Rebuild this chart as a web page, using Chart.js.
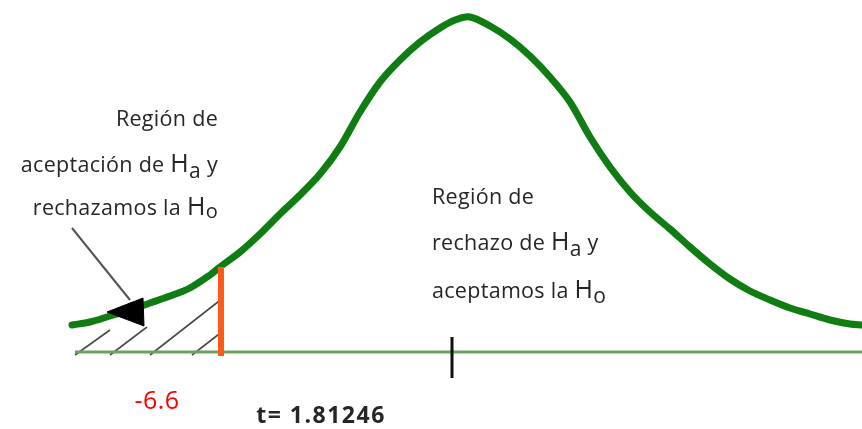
<!DOCTYPE html>
<html>
<head>
<meta charset="utf-8">
<script src="https://cdn.jsdelivr.net/npm/chart.js@4.4.1/dist/chart.umd.min.js"></script>
<style>
  html, body { margin: 0; padding: 0; background: #fff; }
  #c { display: block; }
</style>
</head>
<body>
<canvas id="c" width="862" height="429"></canvas>
<script>
// curve: x position and height above the base line
const curveX = [72, 90, 110, 130, 150, 170, 190, 210, 220, 240, 260, 280, 300, 320, 340, 360, 380, 400, 420, 440, 455, 470, 490, 510, 530, 550, 570, 590, 610, 630, 650, 670, 690, 710, 730, 750, 770, 790, 810, 830, 850, 862]
const curveY = [27, 30, 36, 42, 49, 56, 64, 77, 85, 100, 118, 138, 157, 178, 205, 240, 270, 292, 310, 324, 332, 335, 326, 313, 296, 275, 250, 215, 185, 160, 140, 123, 105, 88, 73, 61, 52, 44, 38, 32, 28, 27]

const baseX = [75, 862]
const critX = 221          // where the rejection region ends
const critTop = 85
const tickX = 452          // t = 1.81246
const tickSpan = [15, -26]

// hatch strokes in the left tail: [x0, y0, x1, y1]
const hatch = [
  [75, -3, 110, 22],
  [110, -3, 147, 25],
  [150, -3, 223, 54],
  [192, -3, 223, 21],
]
const arrowLine = [[72, 124], [130, 52]]
const arrowHead = [[107, 40], [143, 54], [144, 26]]

const critLabel = '-6.6'
const tLabel = 't= 1.81246'

const pts = (xs, ys) => xs.map((x, i) => ({ x, y: ys[i] }))
const seg = (a) => [{ x: a[0], y: a[1] }, { x: a[2], y: a[3] }]

// listed bottom to top
const layers = [
  ...hatch.map(h => ({ data: seg(h), borderColor: '#4a4a4a', borderWidth: 1.6 })),
  { data: pts(baseX, [0, 0]), borderColor: '#6ba35f', borderWidth: 3 },
  { data: arrowLine.map(p => ({ x: p[0], y: p[1] })), borderColor: '#555', borderWidth: 2 },
  { data: pts(curveX, curveY), borderColor: '#0f7d12', borderWidth: 7, tension: 0.3,
    borderCapStyle: 'round', borderJoinStyle: 'round' },
  { data: [{ x: critX, y: -4 }, { x: critX, y: critTop }], borderColor: '#ff5a1a', borderWidth: 6 },
  { data: [{ x: tickX, y: tickSpan[0] }, { x: tickX, y: tickSpan[1] }], borderColor: '#111', borderWidth: 3 },
  { data: [...arrowHead, arrowHead[0]].map(p => ({ x: p[0], y: p[1] })),
    borderColor: '#000', borderWidth: 1, backgroundColor: '#000', fill: 'shape' },
]
layers.forEach(d => { d.pointRadius = 0; d.showLine = true; if (d.fill === undefined) d.fill = false })
const datasets = layers.reverse()

// text blocks, anchored in data units; each line is a list of [text, size, dy]
const FONT = '"Open Sans", sans-serif'
const notes = [
  { x: 218, y: 226, align: 'right', parts: [['Región de', 21.5, 0]] },
  { x: 218, y: 180, align: 'right', parts: [['aceptación de ', 21.5, 0], ['H', 25, 0], ['a', 21, 6], [' y', 21.5, 0]] },
  { x: 218, y: 137, align: 'right', parts: [['rechazamos la ', 21.5, 0], ['H', 25, 0], ['o', 20, 3]] },
  { x: 432, y: 148, align: 'left', parts: [['Región de', 21.5, 0]] },
  { x: 432, y: 102, align: 'left', parts: [['rechazo de ', 21.5, 0], ['H', 25, 0], ['a', 21, 6], [' y', 21.5, 0]] },
  { x: 432, y: 54, align: 'left', parts: [['aceptamos la ', 21.5, 0], ['H', 25, 0], ['o', 21, 5]] },
  { x: 157, y: -57, align: 'center', color: '#ff0000', spacing: 0.5, parts: [[critLabel, 25, 0]] },
  { x: 321, y: -71, align: 'center', bold: true, spacing: 1.5, parts: [[tLabel, 23, 0]] },
]

const textPlugin = {
  id: 'notes',
  afterDatasetsDraw(chart) {
    const { ctx, scales: { x, y } } = chart
    ctx.save()
    ctx.textBaseline = 'alphabetic'
    ctx.textAlign = 'left'
    for (const n of notes) {
      const weight = n.bold ? 'bold ' : ''
      ctx.letterSpacing = (n.spacing === undefined ? 0.3 : n.spacing) + 'px'
      ctx.fillStyle = n.color || '#262626'
      let w = 0
      for (const [t, s] of n.parts) { ctx.font = weight + s + 'px ' + FONT; w += ctx.measureText(t).width }
      let px = x.getPixelForValue(n.x)
      if (n.align === 'right') px -= w
      else if (n.align === 'center') px -= w / 2
      const py = y.getPixelForValue(n.y)
      for (const [t, s, dy] of n.parts) {
        ctx.font = weight + s + 'px ' + FONT
        ctx.fillText(t, px, py + dy)
        px += ctx.measureText(t).width
      }
    }
    ctx.restore()
  }
}

new Chart(document.getElementById('c'), {
  type: 'scatter',
  data: { datasets },
  options: {
    responsive: false,
    animation: false,
    layout: { padding: 0 },
    plugins: { legend: { display: false }, tooltip: { enabled: false } },
    scales: {
      x: { type: 'linear', min: 0, max: 862, display: false },
      y: { type: 'linear', min: -77, max: 352, display: false },
    },
  },
  plugins: [textPlugin],
})
</script>
</body>
</html>
